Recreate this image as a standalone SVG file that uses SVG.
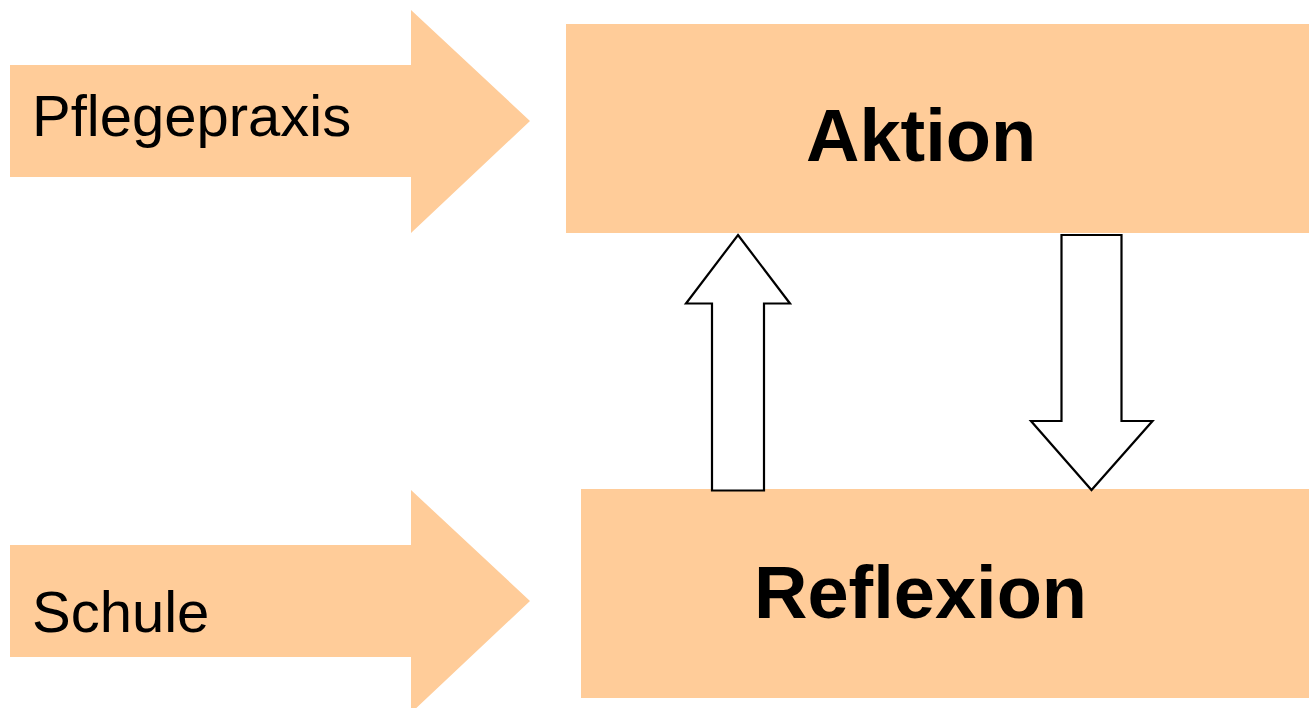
<svg xmlns="http://www.w3.org/2000/svg" width="1309" height="708" viewBox="0 0 1309 708">
<style>
.orange{fill:#FFCC99;stroke:none}
.lbl{font-family:"Liberation Sans",Arial,sans-serif;font-size:58px;fill:#000}
.big{font-family:"Liberation Sans",Arial,sans-serif;font-size:74px;font-weight:bold;fill:#000}
.conn{fill:#fff;stroke:#000;stroke-width:2.2;stroke-linejoin:miter}
</style>
<rect width="1309" height="708" fill="#fff"/>
<g id="pflegepraxis">
<polygon class="orange" points="10,65 411,65 411,10 530,121 411,233 411,177 10,177"/>
<text class="lbl" x="32" y="136">Pflegepraxis</text>
</g>
<g id="schule">
<polygon class="orange" points="10,545 411,545 411,490 530,601 411,713 411,657 10,657"/>
<text class="lbl" x="32" y="632">Schule</text>
</g>
<g id="aktion">
<rect class="orange" x="566" y="24" width="743" height="209"/>
<text class="big" x="806" y="161">Aktion</text>
</g>
<g id="reflexion">
<rect class="orange" x="581" y="489" width="728" height="209"/>
<text class="big" x="754" y="618">Reflexion</text>
</g>
<g id="connectors">
<polygon class="conn" points="738,235 790,303.5 764,303.5 764,490.5 712,490.5 712,303.5 686,303.5"/>
<polygon class="conn" points="1061.5,235 1121.5,235 1121.5,421 1152.5,421 1091.5,490 1031,421 1061.5,421"/>
</g>
</svg>
